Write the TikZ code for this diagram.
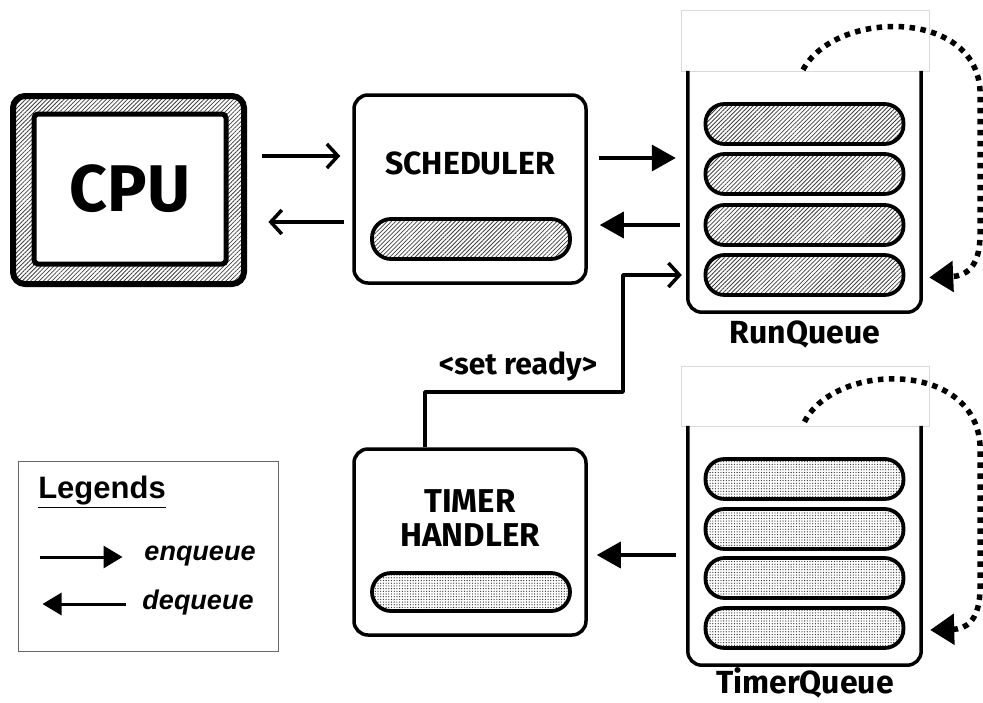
\documentclass[tikz,border=0pt]{standalone}
\usepackage{fontspec}
\setmainfont{Fira Sans}
\newfontfamily\legfont{Liberation Sans}
\usetikzlibrary{arrows.meta,patterns.meta,calc}
\begin{document}
\begin{tikzpicture}[x=1pt,y=-1pt,
  hatch/.style={pattern={Lines[angle=45,distance=3pt,line width=0.8pt]},pattern color=black!75},
  dotfill/.style={pattern={Dots[radius=0.65pt,distance=2.7pt]},pattern color=black!80},
  bigbox/.style={draw,line width=3.5pt,rounded corners=14pt,minimum width=232pt,minimum height=188pt,inner sep=0pt},
  pill/.style={draw,line width=3.8pt,rounded corners=19pt,minimum width=198pt,minimum height=40pt,inner sep=0pt},
  topbox/.style={draw=black!15,fill=white,line width=0.8pt,minimum width=248pt,minimum height=61pt,inner sep=0pt},
  frame/.style={minimum width=233pt,minimum height=241pt,inner sep=0pt},
  ubox/.style={line width=3.5pt,rounded corners=14pt},
  enq/.style={line width=3.5pt,-{Triangle[length=24pt,width=26pt]}},
  opn/.style={line width=3.5pt,-{Straight Barb[length=11pt,width=24pt,line width=3.5pt]}},
  dotarr/.style={line width=5.5pt,dash pattern=on 5.5pt off 5.5pt,-{Triangle[length=24pt,width=30pt]}},
  comic/.style={font=\fontsize{32}{35}\selectfont\bfseries},
  leglabel/.style={font=\legfont\fontsize{27}{30}\selectfont\bfseries\itshape}
]
\useasboundingbox (0,0) rectangle (983,702);

% CPU
\node[draw,line width=6pt,rounded corners=12pt,hatch,minimum width=231pt,minimum height=188pt] (cpu) at (128.5,190) {};
\node[draw,fill=white,line width=5pt,rounded corners=4pt,minimum width=192pt,minimum height=150pt,
      font=\fontsize{66}{66}\selectfont\bfseries] (cpuin) at (130,189) {CPU};

% Scheduler
\node[bigbox] (sched) at (470,189) {};
\node[comic] (schedtxt) at (470,163) {SCHEDULER};
\node[pill,hatch] (spill) at (471,239) {};

% Timer handler
\node[bigbox,minimum height=186pt] (timer) at (470,542) {};
\node[comic,font=\fontsize{33}{34}\selectfont\bfseries,align=center] (timertxt) at (470,518) {TIMER\\HANDLER};
\node[pill,dotfill,minimum height=38pt] (tpill) at (471,592) {};

% RunQueue
\node[topbox] (rqtop) at (805,40.5) {};
\node[frame] (rq) at (804.5,191.5) {};
\draw[ubox] (rq.north west) -- (rq.south west) -- (rq.south east) -- (rq.north east);
\foreach \i/\y in {1/124,2/174,3/225,4/275}
  \node[pill,hatch] (rp\i) at (804.5,\y) {};
\node[comic] (rqlabel) at (805,334) {RunQueue};

% TimerQueue
\node[topbox,minimum height=60pt] (tqtop) at (805,396) {};
\node[frame,minimum height=239pt] (tq) at (804.5,545.5) {};
\draw[ubox] (tq.north west) -- (tq.south west) -- (tq.south east) -- (tq.north east);
\foreach \i/\y in {1/479,2/529,3/578,4/628}
  \node[pill,dotfill] (tp\i) at (804.5,\y) {};
\node[comic] (tqlabel) at (805,683) {TimerQueue};

% arrows CPU <-> scheduler
\draw[opn] ($(cpu.east)+(18,-34)$) -- ($(sched.west)+(-12,-33)$);
\draw[opn] ($(sched.west)+(-8,33)$) -- ($(cpu.east)+(24,32)$);

% scheduler <-> runqueue
\draw[enq] ($(sched.east)+(11,-31)$) -- ($(rq.west)+(-12,-33.5)$);
\draw[enq] ($(rq.west)+(-8,33.5)$) -- ($(sched.east)+(12,36)$);

% timerqueue -> timer handler
\draw[enq] ($(tq.west)+(-12,9.5)$) -- ($(timer.east)+(9,13)$);

% set ready
\coordinate (srk) at (623,392);
\draw[opn,line join=round] ([xshift=-45pt]timer.north) |- (srk) |- ($(rq.west)+(-6,83.5)$);
\node[font=\fontsize{30}{33}\selectfont\bfseries] (srtxt) at (518,366) {<set ready>};

% dotted recycle arrows
\draw[dotarr] ($(rq.north)+(-1.5,-1)$) .. controls (835,10) and (975,8) .. (980,90)
   -- (980,235) .. controls (980,268) and (965,276) .. ($(rq.east)+(8,86)$);
\draw[dotarr] ($(tq.north)+(0,-4)$) .. controls (835,362) and (975,360) .. (980,445)
   -- (980,588) .. controls (980,622) and (965,629) .. ($(tq.east)+(9,84.5)$);

% Legend
\node[draw=black!60,line width=1pt,minimum width=260pt,minimum height=190pt,inner sep=0pt] (leg) at (148,556) {};
\node[font=\legfont\fontsize{31}{34}\selectfont\bfseries] (legtitle) at (102,492) {\underline{Legends}};
\draw[line width=3pt,-{Triangle[length=19pt,width=22pt]}] ($(leg.west)+(22,1)$) -- ($(leg.west)+(105,1)$);
\node[leglabel] (enqtxt) at (200,556) {enqueue};
\draw[line width=3pt,-{Triangle[length=19pt,width=22pt]}] ($(leg.west)+(108,48)$) -- ($(leg.west)+(25,48)$);
\node[leglabel] (deqtxt) at (198,603) {dequeue};
\end{tikzpicture}
\end{document}
